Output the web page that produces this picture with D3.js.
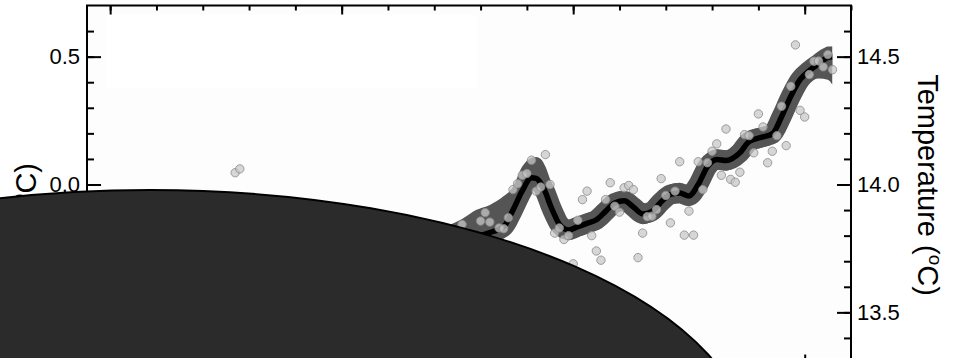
<!DOCTYPE html>
<html><head><meta charset="utf-8">
<script src="https://cdn.jsdelivr.net/npm/d3@7"></script>
<style>body{margin:0;background:#fff;} svg{display:block;}</style>
</head><body>
<svg id="chart" width="953" height="358"></svg>
<script>
// ---------- data ----------
const years = d3.range(1850, 2007);
const anomalies = [
 -0.44,-0.37,-0.35,-0.35,-0.33,-0.35,-0.41,-0.50,-0.39,-0.32,
 -0.39,-0.40,-0.55,-0.30,-0.48,-0.33,-0.31,-0.33,-0.33,-0.28,
 -0.32,-0.36,-0.31,-0.32,-0.38,-0.40,-0.38,0.046,0.061,-0.24,
 -0.25,-0.21,-0.23,-0.29,-0.37,-0.33,-0.28,-0.34,-0.27,-0.17,
 -0.37,-0.32,-0.40,-0.39,-0.35,-0.33,-0.15,-0.16,-0.32,-0.21,
 -0.14,-0.21,-0.32,-0.38,-0.44,-0.29,-0.22,-0.38,-0.43,-0.44,
 -0.41,-0.44,-0.38,-0.37,-0.21,-0.16,-0.33,-0.42,-0.30,-0.27,
 -0.25,-0.19,-0.27,-0.25,-0.27,-0.21,-0.156,-0.21,-0.22,-0.36,
 -0.143,-0.11,-0.147,-0.28,-0.17,-0.173,-0.13,-0.02,0.003,0.036,
 0.043,0.095,-0.026,-0.01,0.117,0.0,-0.19,-0.17,-0.215,-0.2,
 -0.31,-0.14,-0.059,-0.026,-0.2,-0.26,-0.296,-0.059,0.007,-0.085,
 -0.108,-0.013,-0.004,-0.02,-0.286,-0.19,-0.126,-0.124,-0.098,0.023,
 -0.043,-0.15,-0.026,0.089,-0.198,-0.104,-0.198,0.089,-0.02,0.085,
 0.13,0.159,0.036,0.217,0.02,0.009,0.048,0.195,0.191,0.124,
 0.276,0.225,0.085,0.13,0.191,0.306,0.152,0.384,0.546,0.29,
 0.264,0.43,0.482,0.483,0.46,0.508,0.449
];
const smoothYears = [1850,1855,1860,1865,1870,1875,1880,1885,1890,1895,1900,1905,1910,1915,1920,1923,1926,1929,1932,1935,1937,1939,1941,1942,1943,1944,1945,1946,1947,1949,1951,1953,1955,1957,1959,1961,1963,1965,1967,1969,1971,1973,1975,1977,1979,1981,1983,1986,1988,1991,1993,1995,1997,1999,2001,2003,2005,2006];
const smoothValues = [-0.38,-0.38,-0.38,-0.35,-0.30,-0.26,-0.26,-0.30,-0.33,-0.30,-0.27,-0.33,-0.39,-0.33,-0.27,-0.235,-0.215,-0.204,-0.188,-0.165,-0.10,-0.025,0.026,0.024,0.005,-0.03,-0.078,-0.12,-0.155,-0.178,-0.165,-0.152,-0.138,-0.105,-0.072,-0.064,-0.088,-0.115,-0.105,-0.068,-0.039,-0.033,-0.045,0.0,0.07,0.098,0.094,0.124,0.168,0.186,0.198,0.265,0.345,0.41,0.445,0.472,0.497,0.50];
const bandUpper = [-0.28,-0.28,-0.28,-0.25,-0.20,-0.16,-0.17,-0.21,-0.24,-0.21,-0.18,-0.24,-0.30,-0.24,-0.18,-0.16,-0.135,-0.10,-0.08,-0.045,-0.01,0.07,0.105,0.108,0.10,0.07,0.02,-0.04,-0.10,-0.138,-0.125,-0.112,-0.098,-0.065,-0.032,-0.024,-0.048,-0.075,-0.065,-0.028,0.001,0.007,-0.005,0.04,0.11,0.138,0.134,0.164,0.208,0.226,0.238,0.305,0.385,0.45,0.49,0.515,0.54,0.54];
const bandLower = [-0.46,-0.46,-0.46,-0.43,-0.38,-0.34,-0.34,-0.38,-0.41,-0.38,-0.35,-0.41,-0.46,-0.40,-0.33,-0.29,-0.26,-0.25,-0.23,-0.21,-0.15,-0.07,-0.015,-0.02,-0.04,-0.075,-0.12,-0.165,-0.195,-0.218,-0.205,-0.192,-0.178,-0.145,-0.112,-0.104,-0.128,-0.155,-0.145,-0.108,-0.079,-0.073,-0.085,-0.04,0.03,0.058,0.054,0.084,0.128,0.146,0.158,0.225,0.305,0.37,0.40,0.415,0.41,0.39];
const leftTickValues = [-0.5, 0.0, 0.5];
const leftTickLabels = ["-0.5", "0.0", "0.5"];
const rightTickValues = [13.5, 14.0, 14.5];
const rightTickLabels = ["13.5", "14.0", "14.5"];
const xMajorTicks = [1850, 1900, 1950, 2000];

// ---------- layout ----------
const svg = d3.select("#chart");
const L = 87, R = 851, T = 5.5, B = 363.5;
const x = d3.scaleLinear().domain([1845, 2010]).range([L, R]);
const y = d3.scaleLinear().domain([-0.7, 0.7]).range([B, T]);
const yR = d3.scaleLinear().domain([13.3, 14.7]).range([B, T]);
const font = "'Liberation Sans', Arial, Helvetica, sans-serif";

svg.append("rect").attr("x", L).attr("y", T).attr("width", R - L).attr("height", B - T).attr("fill", "#fdfdfd");
svg.append("rect").attr("x", 106).attr("y", 15).attr("width", 371).attr("height", 73).attr("fill", "#ffffff");

const defs = svg.append("defs");
defs.append("clipPath").attr("id", "dataClip").append("rect")
  .attr("x", x(1850)).attr("y", T).attr("width", x(2006) - x(1850)).attr("height", B - T);

const smooth = smoothYears.map((yr, i) => ({yr, v: smoothValues[i], hi: bandUpper[i], lo: bandLower[i]}));
const g = svg.append("g").attr("clip-path", "url(#dataClip)");

g.append("path").datum(smooth)
  .attr("d", d3.area().x(d => x(d.yr)).y0(d => y(d.lo)).y1(d => y(d.hi)).curve(d3.curveMonotoneX))
  .attr("fill", "#555");
g.append("path").datum(smooth)
  .attr("d", d3.line().x(d => x(d.yr)).y(d => y(d.v)).curve(d3.curveMonotoneX))
  .attr("fill", "none").attr("stroke", "#555").attr("stroke-width", 20).attr("stroke-linejoin", "round");
g.append("path").datum(smooth)
  .attr("d", d3.line().x(d => x(d.yr)).y(d => y(d.v)).curve(d3.curveMonotoneX))
  .attr("fill", "none").attr("stroke", "#000").attr("stroke-width", 5.5).attr("stroke-linejoin", "round");

svg.append("g").selectAll("circle").data(years.map((yr, i) => ({yr, v: anomalies[i]})))
  .join("circle")
  .attr("cx", d => x(d.yr)).attr("cy", d => y(d.v)).attr("r", 4.2)
  .attr("fill", "#c8c8c8").attr("fill-opacity", 0.75)
  .attr("stroke", "#8a8a8a").attr("stroke-opacity", 0.8).attr("stroke-width", 1);

// ---------- axes ----------
function style(sel) {
  sel.select(".domain").remove();
  sel.selectAll(".tick line").attr("stroke", "#000").attr("stroke-width", 2);
  sel.selectAll(".tick text").attr("font-family", font).attr("font-size", 22).attr("fill", "#000");
}
const minorY = d3.range(-0.6, 0.65, 0.1).map(v => +v.toFixed(1));
svg.append("g").attr("transform", `translate(${L},0)`)
  .call(d3.axisLeft(y).tickValues(minorY).tickSizeInner(-7).tickSizeOuter(0).tickFormat("")).call(style);
svg.append("g").attr("transform", `translate(${L},0)`)
  .call(d3.axisLeft(y).tickValues(leftTickValues).tickSizeInner(-14).tickSizeOuter(0).tickPadding(7)
    .tickFormat((d, i) => leftTickLabels[i])).call(style);

const minorYR = d3.range(13.4, 14.65, 0.1).map(v => +v.toFixed(1));
svg.append("g").attr("transform", `translate(${R},0)`)
  .call(d3.axisRight(yR).tickValues(minorYR).tickSizeInner(-7).tickSizeOuter(0).tickFormat("")).call(style);
svg.append("g").attr("transform", `translate(${R},0)`)
  .call(d3.axisRight(yR).tickValues(rightTickValues).tickSizeInner(-14).tickSizeOuter(0).tickPadding(6)
    .tickFormat((d, i) => rightTickLabels[i])).call(style);

const minorX = d3.range(1850, 2011, 10);
svg.append("g").attr("transform", `translate(0,${T})`)
  .call(d3.axisTop(x).tickValues(minorX).tickSizeInner(-5).tickSizeOuter(0).tickFormat("")).call(style);
svg.append("g").attr("transform", `translate(0,${T})`)
  .call(d3.axisTop(x).tickValues(xMajorTicks).tickSizeInner(-9).tickSizeOuter(0).tickFormat("")).call(style);
svg.append("g").attr("transform", `translate(0,${B})`)
  .call(d3.axisBottom(x).tickValues(minorX).tickSizeInner(-5).tickSizeOuter(0).tickFormat("")).call(style);
svg.append("g").attr("transform", `translate(0,${B})`)
  .call(d3.axisBottom(x).tickValues(xMajorTicks).tickSizeInner(-9).tickSizeOuter(0).tickFormat("")).call(style);

svg.append("rect").attr("x", L).attr("y", T).attr("width", R - L).attr("height", B - T)
  .attr("fill", "none").attr("stroke", "#000").attr("stroke-width", 2);

// axis titles
const rt = svg.append("text").attr("transform", `translate(918,185) rotate(90)`)
  .attr("text-anchor", "middle").attr("font-family", font).attr("font-size", 29).attr("fill", "#000");
rt.append("tspan").text("Temperature (");
rt.append("tspan").attr("font-size", 19).attr("dy", -11).text("o");
rt.append("tspan").attr("dy", 11).text("C)");

const lt = svg.append("text").attr("transform", `translate(36,163) rotate(-90)`)
  .attr("text-anchor", "end").attr("font-family", font).attr("font-size", 29).attr("fill", "#000");
lt.append("tspan").text("Anomaly (");
lt.append("tspan").attr("font-size", 19).attr("dy", -11).text("o");
lt.append("tspan").attr("dy", 11).text("C)");

// occluding ellipse
svg.append("ellipse").attr("cx", 150).attr("cy", 450).attr("rx", 600).attr("ry", 260)
  .attr("fill", "#2b2b2b").attr("stroke", "#000").attr("stroke-width", 2);
</script>
</body></html>
